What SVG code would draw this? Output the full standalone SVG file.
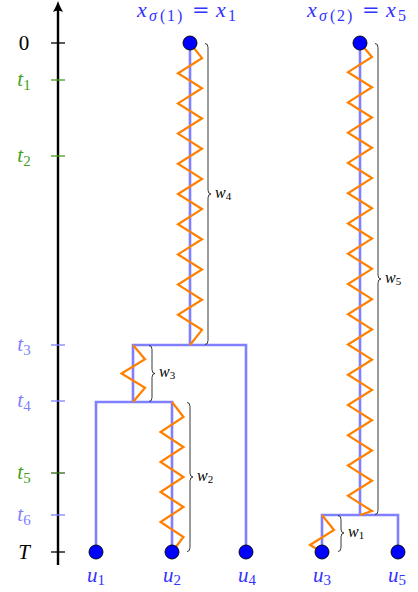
<svg xmlns="http://www.w3.org/2000/svg" width="418" height="592" viewBox="0 0 418 592">
<defs>
<style>
.axis{stroke:#000;stroke-width:2.4;fill:none}
.tick{stroke-width:1.3;fill:none}
.edge{stroke:#8080ff;stroke-width:2.6;fill:none;stroke-linejoin:miter}
.zz{stroke:#ff8000;stroke-width:2.2;fill:none;stroke-linejoin:miter}
.brace{stroke:#222;stroke-width:0.9;fill:none}
.leaf{fill:#0000ff;stroke:#000;stroke-width:0.9}
.lab{font-family:"Liberation Serif",serif;font-size:21px}
.top{font-family:"Liberation Serif",serif;font-size:22px;fill:#3333ff}
.ts{font-size:16px}
.eq{font-family:"DejaVu Serif",serif;font-size:21px}
.it{font-style:italic}
.sub{font-size:15px}
.wl{font-family:"Liberation Serif",serif;font-size:16px;font-style:italic;fill:#000}
.wsub{font-size:11px;font-style:normal}
.blue{fill:#3333ff}
.green{fill:#44a020}
.lblue{fill:#8080ff}
</style>
</defs>

<g id="axis">
<line class="axis" x1="58" y1="565" x2="58" y2="8"/>
<path d="M58,1 Q59.5,6 63,12 Q58,9 53,12 Q56.5,6 58,1 Z" fill="#000"/>
<line class="tick" x1="51" y1="43" x2="65" y2="43" stroke="#000"/>
<line class="tick" x1="51" y1="80" x2="65" y2="80" stroke="#44a020"/>
<line class="tick" x1="51" y1="156" x2="65" y2="156" stroke="#44a020"/>
<line class="tick" x1="51" y1="345" x2="65" y2="345" stroke="#8080ff"/>
<line class="tick" x1="51" y1="401" x2="65" y2="401" stroke="#8080ff"/>
<line class="tick" x1="51" y1="473" x2="65" y2="473" stroke="#2f6a18"/>
<line class="tick" x1="51" y1="515" x2="65" y2="515" stroke="#8080ff"/>
<line class="tick" x1="51" y1="552" x2="65" y2="552" stroke="#000"/>
<text class="lab" x="24" y="50" text-anchor="middle">0</text>
<text class="lab green" x="24" y="86" text-anchor="middle"><tspan class="it">t</tspan><tspan class="sub" dy="4">1</tspan></text>
<text class="lab green" x="24" y="162" text-anchor="middle"><tspan class="it">t</tspan><tspan class="sub" dy="4">2</tspan></text>
<text class="lab lblue" x="24" y="351" text-anchor="middle"><tspan class="it">t</tspan><tspan class="sub" dy="4">3</tspan></text>
<text class="lab lblue" x="24" y="407" text-anchor="middle"><tspan class="it">t</tspan><tspan class="sub" dy="4">4</tspan></text>
<text class="lab green" x="24" y="479" text-anchor="middle"><tspan class="it">t</tspan><tspan class="sub" dy="4">5</tspan></text>
<text class="lab lblue" x="24" y="521" text-anchor="middle"><tspan class="it">t</tspan><tspan class="sub" dy="4">6</tspan></text>
<text class="lab it" x="24" y="559" text-anchor="middle">T</text>
</g>

<g id="connectors">
<path class="edge" d="M190,43 V345 M133,402 V345 H246 V552"/>
<path class="edge" d="M96,552 V402 H172 V552"/>
<path class="edge" d="M360,43 V515 M322,552 V515 H398 V552"/>
<polyline class="zz" points="190,43 202,58.1 178,73.2 202,88.3 178,103.4 202,118.5 178,133.6 202,148.7 178,163.8 202,178.9 178,194 202,209.1 178,224.2 202,239.3 178,254.4 202,269.5 178,284.6 202,299.7 178,314.8 202,329.9 190,345"/>
<polyline class="zz" points="133,345 145,359.25 121.5,373.5 145,387.75 133,402"/>
<polyline class="zz" points="172,402 183.5,417 160.5,432 183.5,447 160.5,462 183.5,477 160.5,492 183.5,507 160.5,522 183.5,537 172,552"/>
<polyline class="zz" points="360,43 372,57 348,72.13 372,87.27 348,102.4 372,117.53 348,132.67 372,147.8 348,162.93 372,178.07 348,193.2 372,208.33 348,223.47 372,238.6 348,253.73 372,268.87 348,284 372,299.13 348,314.27 372,329.4 348,344.53 372,359.67 348,374.8 372,389.93 348,405.07 372,420.2 348,435.33 372,450.47 348,465.6 372,480.73 348,495.87 372,511 360,515"/>
<polyline class="zz" points="322,515 334,530 310,545 322,552"/>
</g>

<g id="braces">
<path class="brace" d="M205,43.5 Q208,43.5 208,47.5 V190 Q208,194 211,194 Q208,194 208,198 V340.5 Q208,344.5 205,344.5"/>
<path class="brace" d="M149,345.5 Q152,345.5 152,349.5 V369.5 Q152,373.5 155,373.5 Q152,373.5 152,377.5 V397.5 Q152,401.5 149,401.5"/>
<path class="brace" d="M187,402.5 Q190,402.5 190,406.5 V473 Q190,477 193,477 Q190,477 190,481 V547.5 Q190,551.5 187,551.5"/>
<path class="brace" d="M375,43.5 Q378,43.5 378,47.5 V275 Q378,279 381,279 Q378,279 378,283 V510.5 Q378,514.5 375,514.5"/>
<path class="brace" d="M338,515.5 Q341,515.5 341,519.5 V529 Q341,533 344,533 Q341,533 341,537 V547.5 Q341,551.5 338,551.5"/>
<text class="wl" x="215" y="198">w<tspan class="wsub" dy="2">4</tspan></text>
<text class="wl" x="159" y="377">w<tspan class="wsub" dy="2">3</tspan></text>
<text class="wl" x="197" y="481">w<tspan class="wsub" dy="2">2</tspan></text>
<text class="wl" x="385" y="283">w<tspan class="wsub" dy="2">5</tspan></text>
<text class="wl" x="348" y="537">w<tspan class="wsub" dy="2">1</tspan></text>
</g>

<g id="root1">
<circle class="leaf" cx="190" cy="43" r="7"/>
<text class="top" y="17"><tspan class="it" x="137">x</tspan><tspan class="ts it" x="149" y="21">σ</tspan><tspan class="ts" x="160" y="21">(</tspan><tspan class="ts" x="167" y="21">1</tspan><tspan class="ts" x="177" y="21">)</tspan><tspan class="eq" x="192" y="17">=</tspan><tspan class="it" x="216" y="17">x</tspan><tspan class="ts" x="228" y="21">1</tspan></text>
</g>
<g id="root2">
<circle class="leaf" cx="360" cy="43" r="7"/>
<text class="top" y="17"><tspan class="it" x="307">x</tspan><tspan class="ts it" x="319" y="21">σ</tspan><tspan class="ts" x="330" y="21">(</tspan><tspan class="ts" x="337" y="21">2</tspan><tspan class="ts" x="347" y="21">)</tspan><tspan class="eq" x="362" y="17">=</tspan><tspan class="it" x="386" y="17">x</tspan><tspan class="ts" x="398" y="21">5</tspan></text>
</g>
<g id="u1">
<circle class="leaf" cx="96" cy="552" r="7"/>
<text class="lab blue" x="96" y="582" text-anchor="middle"><tspan class="it">u</tspan><tspan class="sub" dy="3">1</tspan></text>
</g>
<g id="u2">
<circle class="leaf" cx="172" cy="552" r="7"/>
<text class="lab blue" x="172" y="582" text-anchor="middle"><tspan class="it">u</tspan><tspan class="sub" dy="3">2</tspan></text>
</g>
<g id="u4">
<circle class="leaf" cx="246" cy="552" r="7"/>
<text class="lab blue" x="247" y="582" text-anchor="middle"><tspan class="it">u</tspan><tspan class="sub" dy="3">4</tspan></text>
</g>
<g id="u3">
<circle class="leaf" cx="322" cy="552" r="7"/>
<text class="lab blue" x="322" y="582" text-anchor="middle"><tspan class="it">u</tspan><tspan class="sub" dy="3">3</tspan></text>
</g>
<g id="u5">
<circle class="leaf" cx="398" cy="552" r="7"/>
<text class="lab blue" x="397" y="582" text-anchor="middle"><tspan class="it">u</tspan><tspan class="sub" dy="3">5</tspan></text>
</g>
</svg>
